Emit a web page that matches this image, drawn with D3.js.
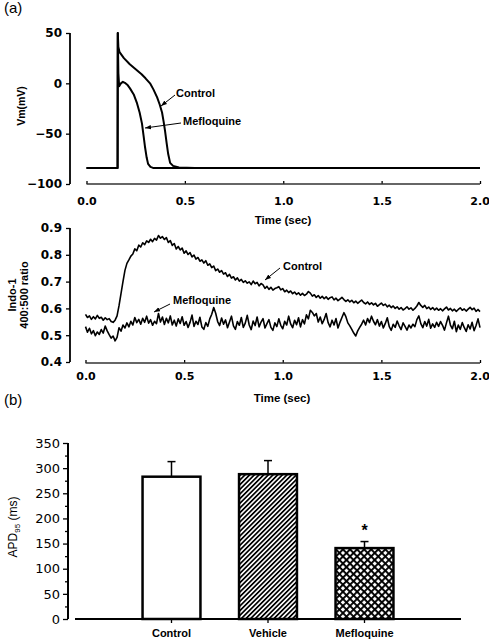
<!DOCTYPE html>
<html><head><meta charset="utf-8">
<script src="https://cdn.jsdelivr.net/npm/d3@7"></script>
<style>body{margin:0;background:#fff}svg{display:block}</style>
</head><body>
<svg id="c" width="489" height="640"></svg>
<script>
// ---------- Panel (a) top: membrane potential ----------
const vmControlTime = [0, 0.158, 0.159, 0.162, 0.168, 0.19, 0.22, 0.25, 0.28, 0.30, 0.323, 0.34, 0.359, 0.372, 0.384, 0.392, 0.399, 0.407, 0.415, 0.425, 0.44, 0.47, 0.55, 2.0];
const vmControl     = [-84, -84, 50, 36, 31, 25, 19, 14, 9, 5, 0, -6, -14, -21, -29, -38, -47, -59, -70, -79, -82, -83.5, -84, -84];
const vmMefloTime   = [0, 0.158, 0.159, 0.162, 0.166, 0.175, 0.185, 0.195, 0.21, 0.221, 0.24, 0.257, 0.27, 0.282, 0.29, 0.298, 0.306, 0.313, 0.325, 0.338, 0.4, 2.0];
const vmMeflo       = [-84, -84, 50, 10, -3, 0, 1.5, 0.5, -2, -5, -11, -20, -29, -40, -52, -64, -74, -80, -83, -84, -84, -84];
const vmTicks = [-100, -50, 0, 50];
const timeTicks = [0, 0.5, 1.0, 1.5, 2.0];

// ---------- Panel (a) bottom: Indo-1 ratio, sampled every 0.01 s ----------
const caControl = [
.578,.566,.572,.559,.569,.561,.574,.563,.567,.556,.565,.558,.562,.551,.548,.556,.572,.610,.655,.700,
.742,.768,.781,.795,.803,.822,.815,.836,.829,.845,.838,.852,.846,.858,.849,.861,.855,.872,.862,.868,
.857,.864,.846,.853,.835,.842,.822,.831,.818,.825,.806,.815,.801,.808,.792,.799,.784,.790,.776,.781,
.769,.778,.761,.766,.752,.758,.741,.747,.735,.741,.728,.733,.719,.727,.713,.718,.706,.714,.702,.708,
.697,.703,.694,.699,.689,.702,.692,.697,.684,.693,.688,.675,.682,.671,.679,.668,.674,.677,.681,.669,
.674,.662,.668,.659,.665,.655,.661,.652,.658,.649,.656,.648,.653,.663,.657,.646,.651,.641,.648,.638,
.645,.636,.643,.634,.640,.643,.632,.638,.629,.635,.641,.633,.626,.632,.624,.630,.621,.627,.619,.625,
.631,.622,.617,.624,.615,.621,.613,.619,.608,.614,.620,.611,.616,.606,.612,.603,.609,.600,.606,.597,
.603,.594,.599,.606,.597,.602,.593,.600,.609,.622,.611,.604,.611,.599,.605,.596,.603,.594,.601,.593,
.599,.591,.598,.605,.594,.600,.591,.597,.589,.596,.602,.593,.598,.590,.597,.604,.595,.601,.589,.596,
.588];
const caMeflo = [
.532,.511,.526,.505,.517,.498,.512,.503,.521,.508,.534,.516,.502,.489,.497,.479,.492,.528,.515,.538,
.527,.546,.531,.552,.538,.566,.547,.559,.541,.563,.548,.571,.545,.558,.537,.552,.543,.581,.549,.568,
.540,.563,.546,.572,.538,.556,.534,.561,.544,.569,.537,.551,.529,.548,.575,.533,.552,.540,.567,.531,
.522,.547,.533,.561,.578,.603,.582,.551,.536,.564,.541,.557,.528,.549,.571,.535,.522,.551,.537,.566,
.529,.545,.574,.538,.521,.553,.536,.568,.531,.549,.562,.527,.543,.558,.529,.518,.546,.532,.561,.537,
.524,.552,.538,.571,.542,.528,.556,.539,.565,.531,.558,.542,.576,.561,.593,.585,.572,.581,.549,.568,
.543,.559,.581,.547,.531,.556,.538,.562,.527,.548,.566,.584,.569,.546,.535,.522,.508,.497,.516,.529,
.541,.556,.538,.562,.547,.571,.552,.539,.558,.534,.551,.527,.544,.565,.532,.518,.541,.529,.553,.535,
.521,.546,.533,.519,.538,.527,.541,.532,.558,.572,.543,.528,.551,.534,.559,.526,.542,.529,.548,.533,
.551,.537,.519,.546,.571,.538,.524,.552,.513,.538,.522,.547,.529,.514,.539,.523,.548,.517,.536,.561,
.528];
const caStep = 0.01;
const caTicks = [0.4, 0.5, 0.6, 0.7, 0.8, 0.9];

// ---------- Panel (b): APD95 bars ----------
const groups = ["Control", "Vehicle", "Mefloquine"];
const apdMean = [283, 288, 141];
const apdErr  = [30, 27, 13];
const apdTicks = [0, 50, 100, 150, 200, 250, 300, 350];
const apdMinor = [25, 75, 125, 175, 225, 275, 325];

const NUM = "'DejaVu Sans', sans-serif";
const TXT = "'Liberation Sans', Arial, sans-serif";
const svg = d3.select("#c");

const defs = svg.append("defs");
defs.append("pattern").attr("id","hatch").attr("patternUnits","userSpaceOnUse")
  .attr("width",3.3).attr("height",10).attr("patternTransform","rotate(45)")
  .call(p=>{p.append("rect").attr("width",3.3).attr("height",10).attr("fill","#fff");
            p.append("rect").attr("width",1.7).attr("height",10).attr("fill","#000");});
defs.append("pattern").attr("id","cross").attr("patternUnits","userSpaceOnUse")
  .attr("width",5).attr("height",5).attr("patternTransform","rotate(45)")
  .call(p=>{p.append("rect").attr("width",5).attr("height",5).attr("fill","#fff");
            p.append("rect").attr("width",1.9).attr("height",5).attr("fill","#000");
            p.append("rect").attr("width",5).attr("height",1.9).attr("fill","#000");});
defs.append("marker").attr("id","arr").attr("viewBox","0 0 8 6").attr("refX",8).attr("refY",3)
  .attr("markerWidth",6).attr("markerHeight",5).attr("orient","auto").attr("markerUnits","userSpaceOnUse")
  .append("path").attr("d","M0,0L8,3L0,6z").attr("fill","#000");

function styleAxis(g, fs, font){
  g.select(".domain").remove();
  g.selectAll(".tick line").attr("stroke","#000").attr("stroke-width",1.3);
  g.selectAll(".tick text").attr("font-family",font).attr("font-size",fs).attr("font-weight","bold").attr("fill","#000");
}
function fitLast(g){
  g.selectAll(".tick text").filter(d=>d===2).attr("text-anchor","end").attr("dx","0.85em");
}

// ===== Top panel =====
const xT = d3.scaleLinear([0,2],[86.5,480]);
const yT = d3.scaleLinear([-100,50],[184,33]);
svg.append("g").attr("transform","translate(70,0)")
  .call(d3.axisLeft(yT).tickValues(vmTicks).tickSizeInner(4).tickSizeOuter(0).tickPadding(4))
  .call(g=>styleAxis(g,12,NUM));
svg.append("line").attr("x1",70).attr("x2",70).attr("y1",yT(50)).attr("y2",yT(-100)).attr("stroke","#000").attr("stroke-width",1.8);
svg.append("g").attr("transform","translate(0,184)")
  .call(d3.axisBottom(xT).tickValues(timeTicks).tickFormat(d3.format(".1f")).tickSizeInner(-3).tickSizeOuter(0).tickPadding(13))
  .call(g=>styleAxis(g,11,NUM)).call(fitLast);
svg.append("line").attr("x1",xT(0)).attr("x2",xT(2)).attr("y1",184).attr("y2",184).attr("stroke","#333").attr("stroke-width",1.3);

const lineT = d3.line().x(d=>xT(d[0])).y(d=>yT(d[1]));
svg.append("path").attr("d",lineT(vmControlTime.map((t,i)=>[t,vmControl[i]]))).attr("fill","none").attr("stroke","#000").attr("stroke-width",2).attr("stroke-linejoin","round");
svg.append("path").attr("d",lineT(vmMefloTime.map((t,i)=>[t,vmMeflo[i]]))).attr("fill","none").attr("stroke","#000").attr("stroke-width",2).attr("stroke-linejoin","round");

svg.append("text").attr("transform","translate(25,106) rotate(-90)").attr("text-anchor","middle")
  .attr("font-family",TXT).attr("font-size",10.5).attr("font-weight","bold").text("Vm(mV)");
svg.append("text").attr("x",283).attr("y",224).attr("text-anchor","middle")
  .attr("font-family",TXT).attr("font-size",11.5).attr("font-weight","bold").text("Time (sec)");
svg.append("text").attr("x",176).attr("y",97).attr("font-family",TXT).attr("font-size",11).attr("font-weight","bold").text("Control");
svg.append("text").attr("x",183).attr("y",125).attr("font-family",TXT).attr("font-size",11).attr("font-weight","bold").text("Mefloquine");
svg.append("line").attr("x1",175).attr("y1",95).attr("x2",161).attr("y2",106).attr("stroke","#000").attr("stroke-width",1).attr("marker-end","url(#arr)");
svg.append("line").attr("x1",181).attr("y1",123).attr("x2",145).attr("y2",128).attr("stroke","#000").attr("stroke-width",1).attr("marker-end","url(#arr)");
svg.append("text").attr("x",4).attr("y",13).attr("font-family",TXT).attr("font-size",15).text("(a)");

// ===== Middle panel =====
const xM = d3.scaleLinear([0,2],[85.5,480]);
const yM = d3.scaleLinear([0.4,0.9],[362,228]);
svg.append("g").attr("transform","translate(70,0)")
  .call(d3.axisLeft(yM).tickValues(caTicks).tickFormat(d3.format(".1f")).tickSizeInner(4).tickSizeOuter(0).tickPadding(4))
  .call(g=>styleAxis(g,12,NUM));
svg.append("line").attr("x1",70).attr("x2",70).attr("y1",yM(0.9)).attr("y2",yM(0.4)).attr("stroke","#000").attr("stroke-width",1.8);
svg.append("g").attr("transform","translate(0,363)")
  .call(d3.axisBottom(xM).tickValues(timeTicks).tickFormat(d3.format(".1f")).tickSizeInner(-3).tickSizeOuter(0).tickPadding(9))
  .call(g=>styleAxis(g,11,NUM)).call(fitLast);
svg.append("line").attr("x1",xM(0)).attr("x2",xM(2)).attr("y1",363).attr("y2",363).attr("stroke","#333").attr("stroke-width",1.3);

const lineM = d3.line().x((d,i)=>xM(i*caStep)).y(d=>yM(d));
svg.append("path").attr("d",lineM(caControl)).attr("fill","none").attr("stroke","#000").attr("stroke-width",1.6).attr("stroke-linejoin","round");
svg.append("path").attr("d",lineM(caMeflo)).attr("fill","none").attr("stroke","#000").attr("stroke-width",1.6).attr("stroke-linejoin","round");

svg.append("text").attr("transform","translate(16,295) rotate(-90)").attr("text-anchor","middle")
  .attr("font-family",TXT).attr("font-size",11).attr("font-weight","bold").text("Indo-1");
svg.append("text").attr("transform","translate(28,295) rotate(-90)").attr("text-anchor","middle")
  .attr("font-family",TXT).attr("font-size",11).attr("font-weight","bold").text("400:500 ratio");
svg.append("text").attr("x",282).attr("y",402).attr("text-anchor","middle")
  .attr("font-family",TXT).attr("font-size",11.5).attr("font-weight","bold").text("Time (sec)");
svg.append("text").attr("x",283).attr("y",270).attr("font-family",TXT).attr("font-size",11).attr("font-weight","bold").text("Control");
svg.append("text").attr("x",173).attr("y",304).attr("font-family",TXT).attr("font-size",11).attr("font-weight","bold").text("Mefloquine");
svg.append("line").attr("x1",280).attr("y1",268).attr("x2",265).attr("y2",280).attr("stroke","#000").attr("stroke-width",1).attr("marker-end","url(#arr)");
svg.append("line").attr("x1",170).attr("y1",304).attr("x2",154).attr("y2",312).attr("stroke","#000").attr("stroke-width",1).attr("marker-end","url(#arr)");

// ===== Bottom panel (b) =====
const xB = d3.scaleLinear([0,4],[75,461]);
const yB = d3.scaleLinear([0,350],[619,443]);
svg.append("text").attr("x",4).attr("y",405).attr("font-family",TXT).attr("font-size",15).text("(b)");
svg.append("g").attr("transform","translate(68,0)")
  .call(d3.axisLeft(yB).tickValues(apdTicks).tickSizeInner(5).tickSizeOuter(0).tickPadding(3))
  .call(g=>styleAxis(g,13,NUM))
  .call(g=>g.selectAll(".tick text").attr("font-weight","normal"));
svg.append("g").attr("transform","translate(68,0)")
  .call(d3.axisLeft(yB).tickValues(apdMinor).tickSizeInner(3).tickSizeOuter(0).tickFormat(""))
  .call(g=>styleAxis(g,13,NUM));
svg.append("line").attr("x1",68).attr("x2",68).attr("y1",yB(350)).attr("y2",yB(0)).attr("stroke","#000").attr("stroke-width",2);
svg.append("line").attr("x1",xB(0)).attr("x2",xB(4)).attr("y1",619).attr("y2",619).attr("stroke","#000").attr("stroke-width",2);
svg.append("g").selectAll("line.ct").data(groups).join("line")
  .attr("x1",(d,i)=>xB(i+1)).attr("x2",(d,i)=>xB(i+1)).attr("y1",619).attr("y2",623).attr("stroke","#000").attr("stroke-width",1.3);
const bw = xB(0.6)-xB(0);
const fills = ["#fff","url(#hatch)","url(#cross)"];
// error bars
svg.append("g").selectAll("g").data(groups).join("g").each(function(d,i){
  const g = d3.select(this), cx = xB(i+1);
  g.append("line").attr("x1",cx).attr("x2",cx).attr("y1",yB(apdMean[i])).attr("y2",yB(apdMean[i]+apdErr[i])).attr("stroke","#000").attr("stroke-width",1.5);
  g.append("line").attr("x1",cx-4).attr("x2",cx+4).attr("y1",yB(apdMean[i]+apdErr[i])).attr("y2",yB(apdMean[i]+apdErr[i])).attr("stroke","#000").attr("stroke-width",1.5);
});
svg.append("g").selectAll("rect").data(groups).join("rect")
  .attr("x",(d,i)=>xB(i+1)-bw/2).attr("width",bw)
  .attr("y",(d,i)=>yB(apdMean[i])).attr("height",(d,i)=>yB(0)-yB(apdMean[i]))
  .attr("fill",(d,i)=>fills[i]).attr("stroke","#000").attr("stroke-width",2.5);
svg.append("g").selectAll("text").data(groups).join("text")
  .attr("x",(d,i)=>xB(i+1)).attr("y",637).attr("text-anchor","middle")
  .attr("font-family",TXT).attr("font-size",11).attr("font-weight","bold").text(d=>d);
svg.append("text").attr("x",xB(3)).attr("y",yB(apdMean[2]+apdErr[2])-6).attr("text-anchor","middle")
  .attr("font-family",TXT).attr("font-size",16).attr("font-weight","bold").text("*");
const apl = svg.append("text").attr("transform","translate(17,527) rotate(-90)").attr("text-anchor","middle")
  .attr("font-family",TXT).attr("font-size",12);
apl.append("tspan").text("APD");
apl.append("tspan").attr("font-size",8).attr("dy",3).text("95");
apl.append("tspan").attr("dy",-3).text(" (ms)");
</script>
</body></html>
